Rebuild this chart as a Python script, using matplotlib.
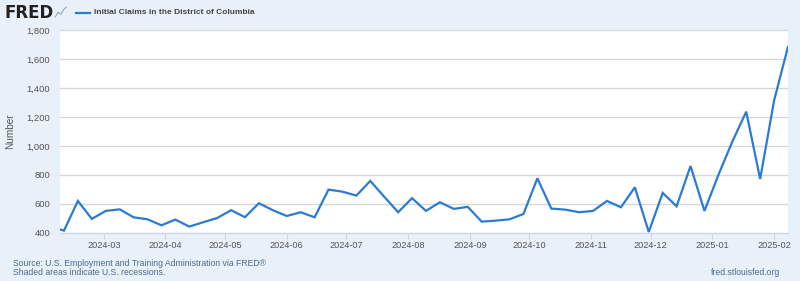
import matplotlib.pyplot as plt
import matplotlib.dates as mdates
import numpy as np
import pandas as pd

plt.rcParams['font.family'] = ['Liberation Sans', 'DejaVu Sans']

## Data (weekly, week ending Saturday)
dates = pd.date_range("2024-02-03", "2025-02-08", freq="7D")
claims = [445, 416, 621, 497, 552, 563, 508, 494, 453, 492, 444, 474, 503,
          557, 509, 605, 557, 517, 543, 508, 699, 685, 658, 759, 650, 543,
          640, 552, 612, 566, 580, 478, 485, 494, 531, 777, 568, 561, 543,
          552, 621, 577, 715, 407, 676, 584, 862, 552, 800, 1030, 1237, 772,
          1313, 1685]
yticks = [400, 600, 800, 1000, 1200, 1400, 1600, 1800]
series_name = "Initial Claims in the District of Columbia"

bg = '#e8f0fa'
line_col = '#2b7bd2'
txt_col = '#555555'

fig = plt.figure(figsize=(8, 2.81), dpi=100, facecolor=bg)
ax = fig.add_axes([0.075, 0.171, 0.91, 0.722])
ax.set_facecolor('white')

ax.plot(dates, claims, color=line_col, lw=1.6, solid_joinstyle='miter')

ax.set_xlim(pd.Timestamp("2024-02-08"), pd.Timestamp("2025-02-08"))
ax.set_ylim(400, 1800)
ax.set_yticks(yticks)
ax.set_yticklabels([f"{v:,}" for v in yticks])
ax.yaxis.grid(True, color='#d8d8d8', lw=1)
ax.set_axisbelow(True)

ax.xaxis.set_major_locator(mdates.MonthLocator())
ax.xaxis.set_major_formatter(mdates.DateFormatter('%Y-%m'))

for s in ['top', 'right', 'left']:
    ax.spines[s].set_visible(False)
ax.spines['bottom'].set_color('#ccd6eb')
ax.tick_params(axis='y', length=0, labelsize=6.8, labelcolor=txt_col, pad=7)
ax.tick_params(axis='x', length=4, color='#ccd6eb', labelsize=6.6,
               labelcolor=txt_col, pad=2)
ax.set_ylabel("Number", fontsize=7.2, color=txt_col)
ax.yaxis.set_label_coords(-0.062, 0.5)

## Header
fig.text(0.006, 0.955, "FRED", fontsize=12, fontweight='bold',
         color='#222222', va='center', family='DejaVu Sans')
icon = fig.add_axes([0.068, 0.935, 0.016, 0.045])
icon.plot([0, 1, 2, 3, 4], [0, 1, 0.6, 1.6, 2.2], color='#9aa5b1', lw=0.8)
icon.set_xlim(-0.3, 4.3)
icon.set_ylim(-0.3, 2.5)
icon.axis('off')
fig.lines.append(plt.Line2D([0.095, 0.112], [0.955, 0.955], color=line_col,
                            lw=1.6, transform=fig.transFigure))
fig.text(0.117, 0.955, series_name, fontsize=6, fontweight='bold',
         color='#444444', va='center')

## Footer
foot_col = '#4a6b8c'
fig.text(0.016, 0.064, "Source: U.S. Employment and Training Administration via FRED\u00ae",
         fontsize=6.2, color=foot_col, va='center')
fig.text(0.016, 0.032, "Shaded areas indicate U.S. recessions.",
         fontsize=6.2, color=foot_col, va='center')
fig.text(0.975, 0.032, "fred.stlouisfed.org", fontsize=6.2, color=foot_col,
         va='center', ha='right')

fig.savefig("out.png", dpi=100, facecolor=bg)
